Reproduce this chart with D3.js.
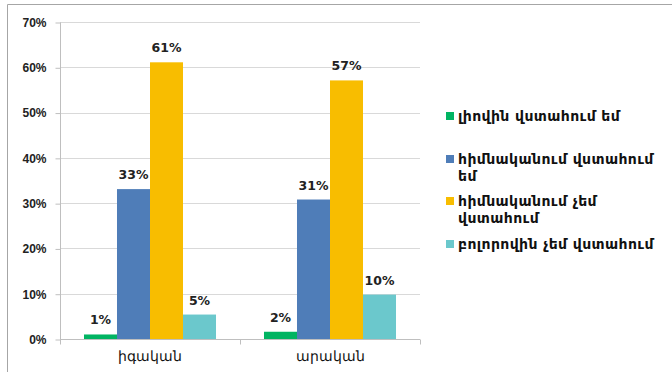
<!DOCTYPE html>
<html>
<head>
<meta charset="utf-8">
<script src="https://cdn.jsdelivr.net/npm/d3@7"></script>
<style>
  body { margin: 0; background: #fff; }
  svg { display: block; font-family: "DejaVu Sans", sans-serif; }
</style>
</head>
<body>
<div id="chart"></div>
<script>
// data
var categories = ["իգական", "արական"];
var seriesNames = ["լիովին վստահում եմ", "հիմնականում վստահում եմ", "հիմնականում չեմ վստահում", "բոլորովին չեմ վստահում"];
var female = [0.010, 0.331, 0.611, 0.054];
var male = [0.016, 0.308, 0.571, 0.098];
var tickLabels = ["0%", "10%", "20%", "30%", "40%", "50%", "60%", "70%"];
var colors = ["#00B462", "#4F7DB8", "#F8BD00", "#6BC8CC"];

var w = 672, h = 372;
var svg = d3.select("#chart").append("svg")
    .attr("width", w)
    .attr("height", h);

// frame (chart area border)
svg.append("path")
    .attr("d", "M7.5," + h + "V4.5H" + w)
    .attr("fill", "none")
    .attr("stroke", "#a6a6a6");

var x0 = d3.scaleBand().domain(categories).range([60, 420]).padding(0);
var x1 = d3.scaleBand().domain(d3.range(4)).range([0, x0.bandwidth()])
    .paddingInner(0).paddingOuter(0.727);
var y = d3.scaleLinear().domain([0, 0.7]).range([339, 22]);

// gridlines
svg.append("g").selectAll("line")
    .data(d3.range(1, 8).map(function (d) { return d / 10; }))
    .enter().append("line")
    .attr("x1", 60).attr("x2", 420)
    .attr("y1", function (d) { return Math.round(y(d)) + 0.5; })
    .attr("y2", function (d) { return Math.round(y(d)) + 0.5; })
    .attr("stroke", "#d9d9d9");

// y axis
var yAxis = d3.axisLeft(y)
    .tickValues(d3.range(0, 8).map(function (d) { return d / 10; }))
    .tickFormat(function (d, i) { return tickLabels[i]; })
    .tickSize(5).tickPadding(9);
var gy = svg.append("g").attr("transform", "translate(60.5,0.5)").call(yAxis);
gy.select(".domain").attr("stroke", "#bfbfbf").attr("d", "M0," + y(0.7) + "V" + y(0));
gy.selectAll(".tick line").attr("stroke", "#bfbfbf");
gy.selectAll("text").attr("font-size", 12).attr("font-weight", "bold").attr("fill", "#222");

// bars
var data = [female, male];
var groups = svg.selectAll("g.grp")
    .data(data)
    .enter().append("g")
    .attr("class", "grp")
    .attr("transform", function (d, i) { return "translate(" + x0(categories[i]) + ",0)"; });

groups.selectAll("rect")
    .data(function (d) { return d; })
    .enter().append("rect")
    .attr("x", function (d, i) { return x1(i); })
    .attr("y", function (d) { return y(d); })
    .attr("width", x1.bandwidth())
    .attr("height", function (d) { return y(0) - y(d); })
    .attr("fill", function (d, i) { return colors[i]; });

groups.selectAll("text")
    .data(function (d) { return d; })
    .enter().append("text")
    .attr("x", function (d, i) { return x1(i) + x1.bandwidth() / 2; })
    .attr("y", function (d) { return y(d) - 10; })
    .attr("text-anchor", "middle")
    .attr("font-size", 12.5)
    .attr("font-weight", "bold")
    .attr("fill", "#222")
    .text(function (d) { return Math.round(d * 100) + "%"; });

// x axis
var xAxis = d3.axisBottom(x0).tickSize(0).tickPadding(12);
var gx = svg.append("g").attr("transform", "translate(0,339.5)").call(xAxis);
gx.select(".domain").remove();
gx.selectAll("text").attr("font-size", 13.5).attr("fill", "#111");
gx.append("line").attr("x1", 60).attr("x2", 420).attr("stroke", "#bfbfbf");
gx.selectAll(".sep")
    .data([60, 240, 420])
    .enter().append("line")
    .attr("class", "sep")
    .attr("x1", function (d) { return d + 0.5; })
    .attr("x2", function (d) { return d + 0.5; })
    .attr("y1", 0).attr("y2", 5)
    .attr("stroke", "#bfbfbf");

// legend
var legendItems = [
    { lines: ["լիովին վստահում եմ"], y: 116 },
    { lines: ["հիմնականում վստահում", "եմ"], y: 159 },
    { lines: ["հիմնականում չեմ", "վստահում"], y: 201 },
    { lines: ["բոլորովին չեմ վստահում"], y: 244 }
];
var lg = svg.append("g");
var li = lg.selectAll("g")
    .data(legendItems)
    .enter().append("g")
    .attr("transform", function (d) { return "translate(446," + d.y + ")"; });
li.append("rect")
    .attr("x", 0).attr("y", -4)
    .attr("width", 8).attr("height", 8)
    .attr("fill", function (d, i) { return colors[i]; });
li.append("text")
    .attr("x", 12)
    .attr("y", 5)
    .attr("font-size", 14)
    .attr("fill", "#111")
    .attr("letter-spacing", 0.4)
    .style("font-weight", 600)
    .selectAll("tspan")
    .data(function (d) { return d.lines; })
    .enter().append("tspan")
    .attr("x", 12)
    .attr("dy", function (d, i) { return i ? 16.5 : 0; })
    .text(function (d) { return d; });
</script>
</body>
</html>
